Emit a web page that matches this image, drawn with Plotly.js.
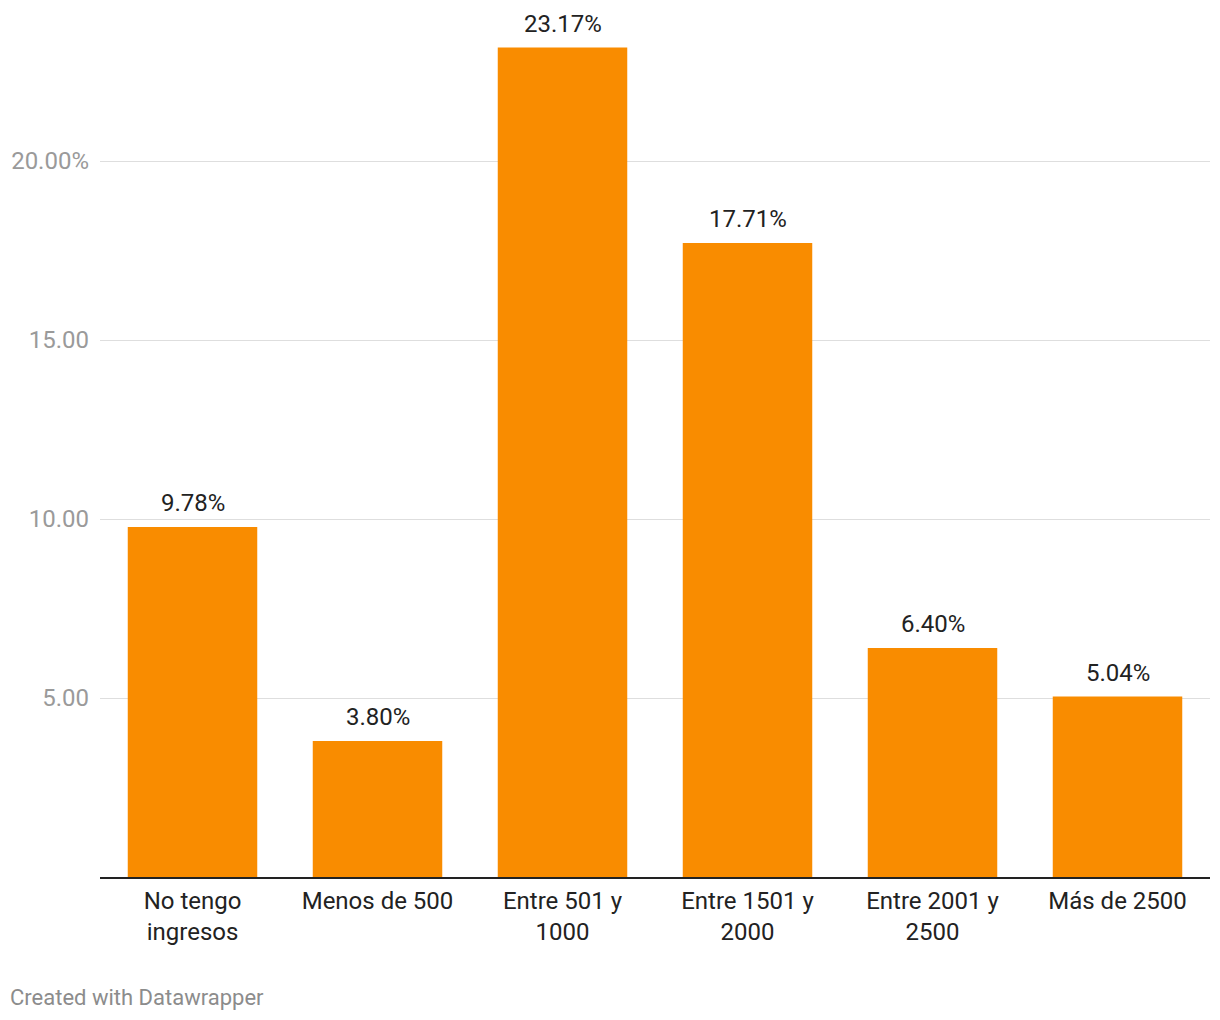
<!DOCTYPE html>
<html>
<head>
<meta charset="utf-8">
<script src="https://cdn.plot.ly/plotly-3.0.1.min.js"></script>
<style>
  body { margin: 0; background: #fff; }
  #chart { width: 1220px; height: 1020px; }
</style>
</head>
<body>
<div id="chart"></div>
<script>
// ingresos mensuales, porcentaje de respuestas
var categories = ["No tengo<br>ingresos", "Menos de 500", "Entre 501 y<br>1000", "Entre 1501 y<br>2000", "Entre 2001 y<br>2500", "Más de 2500"];
var shares = [9.78, 3.80, 23.17, 17.71, 6.40, 5.04];
var shareLabels = ["9.78%", "3.80%", "23.17%", "17.71%", "6.40%", "5.04%"];
var yTicks = [5, 10, 15, 20];
var yTickLabels = ["5.00", "10.00", "15.00", "20.00%"];

var trace = {
    x: categories,
    y: shares,
    type: "bar",
    marker: {color: "#f98c00"},
    hoverinfo: "none"
};

var labels = shares.map(function (v, i) {
    return {
        x: categories[i],
        y: v,
        text: shareLabels[i],
        showarrow: false,
        yanchor: "bottom",
        yshift: 8,
        font: {family: "Roboto", size: 24, color: "#222"}
    };
});

labels.push({
    xref: "paper",
    yref: "paper",
    x: 0,
    y: -0.1434,
    xanchor: "left",
    yanchor: "middle",
    xshift: -92,
    text: "Created with Datawrapper",
    showarrow: false,
    font: {family: "Roboto", size: 22, color: "#8c8c8c"}
});

var layout = {
    width: 1220,
    height: 1020,
    margin: {l: 100, r: 10, t: 40, b: 143},
    paper_bgcolor: "#fff",
    plot_bgcolor: "#fff",
    bargap: 0.3,
    showlegend: false,
    font: {family: "Roboto", size: 24, color: "#222"},
    xaxis: {
        type: "category",
        showgrid: false,
        showline: true,
        linecolor: "#222",
        linewidth: 2,
        ticks: "",
        ticklabelstandoff: 1,
        tickfont: {family: "Roboto", size: 24, color: "#222"},
        fixedrange: true
    },
    yaxis: {
        range: [0, 23.38],
        tickvals: yTicks,
        ticktext: yTickLabels,
        showgrid: true,
        gridcolor: "#dedede",
        gridwidth: 1,
        zeroline: false,
        showline: false,
        ticks: "",
        ticklabelstandoff: 10,
        tickfont: {family: "Roboto", size: 24, color: "#9a9a9a"},
        fixedrange: true
    },
    annotations: labels
};

Plotly.newPlot("chart", [trace], layout, {displayModeBar: false, staticPlot: true});
</script>
</body>
</html>
